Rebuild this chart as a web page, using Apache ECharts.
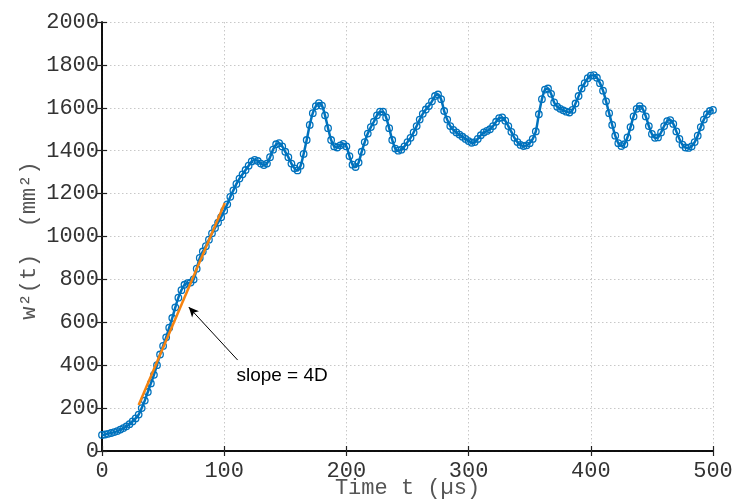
<!DOCTYPE html>
<html>
<head>
<meta charset="utf-8">
<script src="https://cdn.jsdelivr.net/npm/echarts@6/dist/echarts.min.js"></script>
<style>html,body{margin:0;padding:0;background:#fff}#c{width:734px;height:499px}</style>
</head>
<body>
<div id="c"></div>
<script>
// Sample step (µs) of the measured curve
const T_STEP = 2.5;
// w^2(t) values (mm^2), one per T_STEP starting at t = 0
const w2Values = [
  75, 77, 80, 84, 88, 93, 100, 107, 115, 125,
  138, 152, 170, 200, 235, 275, 315, 355, 400, 450,
  490, 530, 575, 620, 670, 715, 750, 775, 783, 785,
  800, 850, 900, 930, 955, 985, 1015, 1040, 1065, 1090,
  1120, 1150, 1185, 1215, 1245, 1270, 1290, 1310, 1330, 1350,
  1357, 1352, 1340, 1333, 1340, 1370, 1405, 1430, 1435, 1420,
  1395, 1370, 1340, 1318, 1308, 1330, 1385, 1450, 1520, 1575,
  1608, 1622, 1610, 1565, 1505, 1450, 1420, 1415, 1425, 1432,
  1420, 1375, 1335, 1324, 1345, 1395, 1440, 1480, 1510, 1535,
  1565, 1582, 1582, 1555, 1505, 1450, 1410, 1400, 1405, 1420,
  1440, 1460, 1485, 1515, 1545, 1572, 1592, 1608, 1630, 1655,
  1662, 1640, 1585, 1545, 1515, 1497, 1485, 1475, 1465, 1455,
  1445, 1437, 1440, 1455, 1472, 1485, 1492, 1500, 1515, 1535,
  1552, 1555, 1540, 1515, 1488, 1460, 1440, 1427, 1422, 1425,
  1435, 1455, 1490, 1570, 1640, 1685, 1690, 1665, 1625, 1605,
  1595, 1588, 1582, 1578, 1590, 1620, 1655, 1690, 1715, 1738,
  1750, 1752, 1740, 1715, 1680, 1630, 1575, 1520, 1470, 1435,
  1422, 1430, 1462, 1510, 1560, 1595, 1608, 1595, 1560, 1515,
  1478, 1460, 1462, 1485, 1515, 1538, 1543, 1525, 1490, 1455,
  1428, 1415, 1413, 1420, 1440, 1470, 1510, 1545, 1570, 1585,
  1590
];
// Linear fit (slope = 4D) end points
const fitT = [30, 100.5];
const fitV = [214, 1156];
// Annotation
const arrowFrom = [111, 424];
const arrowTo = [71, 671];
const labelAt = [110, 350];
const labelText = 'slope = 4D';
// Axes
const xTicks = { min: 0, max: 500, interval: 100 };
const yTicks = { min: 0, max: 2000, interval: 200 };
const xName = 'Time t (µs)';
const yName = 'w²(t)  (mm²)';

const curve = w2Values.map((v, i) => [i * T_STEP, v]);
const fit = fitT.map((t, i) => [t, fitV[i]]);

const mono = 'Liberation Mono';
const plain = v => String(v);
const chart = echarts.init(document.getElementById('c'), null, { renderer: 'canvas' });
const boxAxis = {
  axisLine: { show: true, lineStyle: { color: '#000', width: 1.5 } },
  axisTick: { show: true, inside: true, length: 5, lineStyle: { color: '#222', width: 1.2 } },
  axisLabel: { show: false },
  splitLine: { show: false }
};
chart.setOption({
  animation: false,
  backgroundColor: '#fff',
  grid: { left: 102, right: 21, top: 22, bottom: 48, containLabel: false, outerBoundsMode: 'none' },
  xAxis: [{
    type: 'value', min: xTicks.min, max: xTicks.max, interval: xTicks.interval,
    name: xName, nameLocation: 'middle', nameGap: 26, nameMoveOverlap: false,
    nameTextStyle: { fontFamily: mono, fontSize: 22, color: '#555' },
    axisLine: { show: true, onZero: false, lineStyle: { color: '#000', width: 1.5 } },
    axisTick: { show: true, inside: true, length: 5, lineStyle: { color: '#222', width: 1.2 } },
    axisLabel: { fontFamily: mono, fontSize: 22, color: '#333', margin: 9, formatter: plain },
    splitLine: { show: true, lineStyle: { color: '#c8c8c8', type: [1.5, 2.5], width: 1 } }
  }, Object.assign({
    type: 'value', position: 'top', min: xTicks.min, max: xTicks.max, interval: xTicks.interval
  }, boxAxis)],
  yAxis: [{
    type: 'value', min: yTicks.min, max: yTicks.max, interval: yTicks.interval,
    name: yName, nameLocation: 'middle', nameGap: 62, nameRotate: 90, nameMoveOverlap: false,
    nameTextStyle: { fontFamily: mono, fontSize: 22, color: '#555', padding: [0, 8, 0, 0] },
    axisLine: { show: true, onZero: false, lineStyle: { color: '#000', width: 1.5 } },
    axisTick: { show: true, inside: true, length: 5, lineStyle: { color: '#222', width: 1.2 } },
    axisLabel: { fontFamily: mono, fontSize: 22, color: '#333', margin: 3, formatter: plain },
    splitLine: { show: true, lineStyle: { color: '#c8c8c8', type: [1.5, 2.5], width: 1 } }
  }, Object.assign({
    type: 'value', position: 'right', min: yTicks.min, max: yTicks.max, interval: yTicks.interval
  }, boxAxis)],
  series: [{
    type: 'line',
    data: curve,
    smooth: 0.3,
    symbol: 'circle',
    symbolSize: 6.5,
    showAllSymbol: true,
    lineStyle: { color: '#0072BD', width: 2.5 },
    itemStyle: { color: 'rgba(0,0,0,0)', borderColor: '#0072BD', borderWidth: 1.3 },
    z: 2
  }, {
    type: 'line',
    data: fit,
    symbol: 'none',
    lineStyle: { color: '#F5820F', width: 2.5 },
    z: 3,
    markLine: {
      silent: true,
      symbol: ['none', 'arrow'],
      symbolSize: [7, 10],
      label: { show: false },
      lineStyle: { color: '#000', width: 1, type: 'solid' },
      data: [[{ coord: arrowFrom }, { coord: arrowTo }]]
    },
    markPoint: {
      silent: true,
      symbol: 'circle', symbolSize: 0,
      label: {
        show: true, position: 'right', distance: 0,
        formatter: labelText,
        fontFamily: 'Liberation Sans', fontSize: 19, color: '#000'
      },
      data: [{ coord: labelAt }]
    }
  }]
});
</script>
</body>
</html>
